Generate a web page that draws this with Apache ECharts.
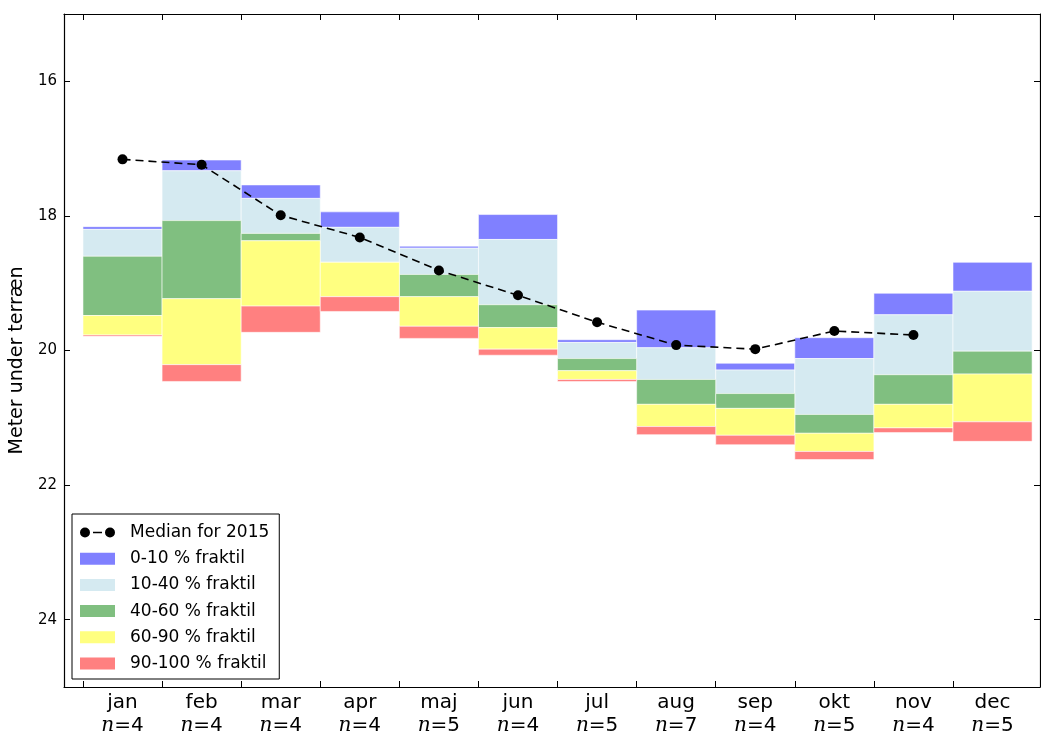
<!DOCTYPE html>
<html>
<head>
<meta charset="utf-8">
<script src="https://cdn.jsdelivr.net/npm/echarts@6/dist/echarts.min.js"></script>
<style>
html,body{margin:0;padding:0;background:#fff;}
#chart{width:1041px;height:735px;}
</style>
</head>
<body>
<div id="chart"></div>
<script>
// ---- data ----
const months = ['jan','feb','mar','apr','maj','jun','jul','aug','sep','okt','nov','dec'];
const counts = [4,4,4,4,5,4,5,7,4,5,4,5];
// fractile boundaries (meter under terræn)
const p0   = [18.16,17.17,17.54,17.94,18.45,17.98,19.84,19.40,20.19,19.81,19.15,18.69];
const p10  = [18.20,17.33,17.74,18.17,18.48,18.35,19.88,19.96,20.29,20.12,19.47,19.12];
const p40  = [18.60,18.07,18.26,18.69,18.87,19.32,20.12,20.43,20.64,20.95,20.36,20.01];
const p60  = [19.48,19.23,18.37,18.69,19.20,19.66,20.30,20.80,20.86,21.23,20.80,20.35];
const p90  = [19.77,20.21,19.34,19.20,19.64,19.98,20.43,21.13,21.26,21.50,21.15,21.06];
const p100 = [19.79,20.46,19.73,19.42,19.82,20.07,20.46,21.25,21.40,21.62,21.22,21.35];
const median2015 = [17.16,17.24,17.99,18.32,18.81,19.18,19.58,19.92,19.98,19.71,19.77,null];
const yTicks = [16,18,20,22,24];
const bandNames = ['0-10 % fraktil','10-40 % fraktil','40-60 % fraktil','60-90 % fraktil','90-100 % fraktil'];
const bandColors = ['#8080ff','#d5eaf1','#80bf80','#ffff80','#ff8080'];
const medianName = 'Median for 2015';

// ---- build ----
const bounds = [p0,p10,p40,p60,p90,p100];
const FONT = 'DejaVu Sans';

function renderBand(params, api){
  const i = api.value(0);
  const a = api.coord([i, api.value(1)]);
  const b = api.coord([i+1, api.value(2)]);
  return {
    type:'rect',
    shape:{x:a[0], y:a[1], width:b[0]-a[0], height:b[1]-a[1]},
    style:{fill: api.visual('color'), stroke:'rgba(255,255,255,0.55)', lineWidth:1}
  };
}

const bandSeries = bandNames.map((name,k)=>({
  type:'custom',
  name:name,
  renderItem:renderBand,
  itemStyle:{color:bandColors[k]},
  encode:{x:0,y:[1,2]},
  clip:true,
  z:2,
  data: months.map((m,i)=>[i, bounds[k][i], bounds[k+1][i]])
}));

const medianSeries = {
  type:'line',
  name:medianName,
  data: months.map((m,i)=>[i+0.5, median2015[i]]),
  connectNulls:false,
  symbol:'circle',
  symbolSize:10,
  showSymbol:true,
  itemStyle:{color:'#000'},
  lineStyle:{color:'#000', width:1.6, type:[8,5]},
  z:5,
  animation:false
};

const xTickVals = months.map((m,i)=>i);
const xLabelVals = months.map((m,i)=>i+0.5);

const medianIcon = 'path://M0,6 A5,5 0 1,1 10,6 A5,5 0 1,1 0,6 Z M13,5.2 L22,5.2 L22,6.8 L13,6.8 Z M25,6 A5,5 0 1,1 35,6 A5,5 0 1,1 25,6 Z';

const option = {
  animation:false,
  backgroundColor:'#fff',
  textStyle:{fontFamily:FONT},
  grid:{left:64, top:14, right:1, bottom:48, containLabel:false, outerBoundsMode:'none'},
  legend:{
    orient:'vertical',
    left:72, top:514,
    padding:[10,10,7,8],
    itemWidth:35, itemHeight:12,
    itemGap:9.2,
    borderColor:'#000', borderWidth:1,
    backgroundColor:'#fff',
    textStyle:{fontFamily:FONT, fontSize:17, color:'#000', padding:[0,0,0,10]},
    data:[
      {name:medianName, icon:medianIcon},
      ...bandNames.map(n=>({name:n, icon:'rect'}))
    ]
  },
  xAxis:[
    {
      type:'value', position:'bottom', min:-0.24, max:12.1,
      splitLine:{show:false},
      axisLine:{show:true, onZero:false, lineStyle:{color:'#000', width:1.2}},
      axisTick:{show:true, inside:true, length:6, customValues:xTickVals, lineStyle:{color:'#000'}},
      axisLabel:{
        show:true, margin:4, customValues:xLabelVals,
        formatter:function(v){
          const i = Math.round(v-0.5);
          return '{m|'+months[i]+'}\n{i|n}{e|='+counts[i]+'}';
        },
        rich:{
          m:{fontFamily:FONT, fontSize:20, color:'#000', lineHeight:23},
          i:{fontFamily:'DejaVu Serif', fontStyle:'italic', fontSize:20, color:'#000', lineHeight:23},
          e:{fontFamily:FONT, fontSize:20, color:'#000', lineHeight:23}
        }
      }
    },
    {
      type:'value', position:'top', min:-0.24, max:12.1,
      splitLine:{show:false},
      axisLine:{show:true, onZero:false, lineStyle:{color:'#000', width:1.2}},
      axisTick:{show:true, inside:true, length:6, customValues:xTickVals, lineStyle:{color:'#000'}},
      axisLabel:{show:false}
    }
  ],
  yAxis:[
    {
      type:'value', position:'left', inverse:true, min:15, max:25,
      name:'Meter under terræn', nameLocation:'middle', nameGap:33,
      nameTextStyle:{fontFamily:FONT, fontSize:19, color:'#000', padding:[0,20,0,0]},
      splitLine:{show:false},
      axisLine:{show:true, onZero:false, lineStyle:{color:'#000', width:1.2}},
      axisTick:{show:true, inside:true, length:6, customValues:yTicks, lineStyle:{color:'#000'}},
      axisLabel:{show:true, customValues:yTicks, fontFamily:FONT, fontSize:15, color:'#000', margin:7}
    },
    {
      type:'value', position:'right', inverse:true, min:15, max:25,
      splitLine:{show:false},
      axisLine:{show:true, onZero:false, lineStyle:{color:'#000', width:1.2}},
      axisTick:{show:true, inside:true, length:6, customValues:yTicks, lineStyle:{color:'#000'}},
      axisLabel:{show:false}
    }
  ],
  series:[...bandSeries, medianSeries]
};

const chart = echarts.init(document.getElementById('chart'), null, {renderer:'canvas'});
chart.setOption(option);
</script>
</body>
</html>
